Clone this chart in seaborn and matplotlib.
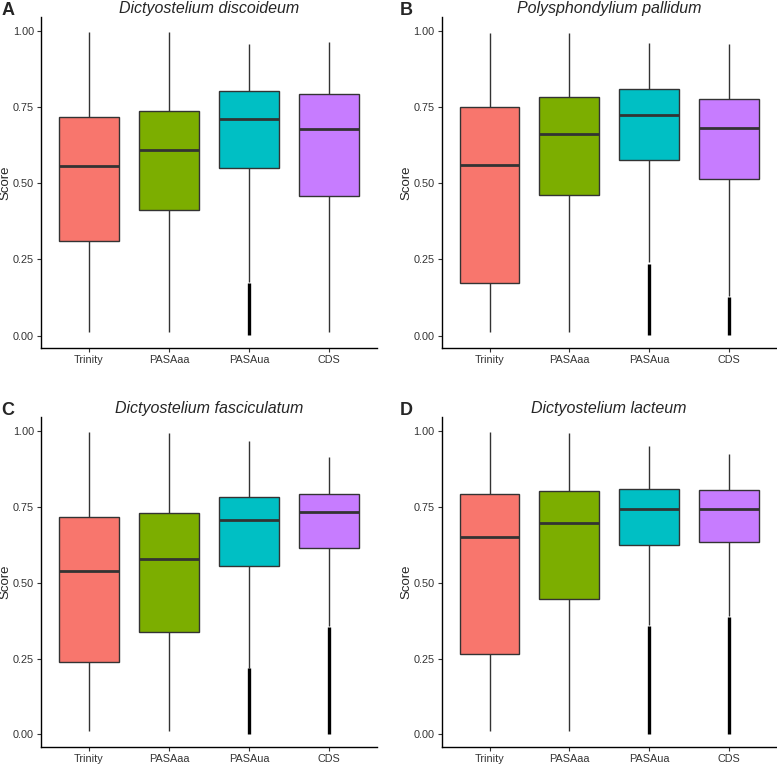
import matplotlib
matplotlib.use("Agg")
import matplotlib.pyplot as plt
import seaborn as sns
import pandas as pd

# kategoriler ve renkler (ggplot varsayilan paleti)
categories = ["Trinity", "PASAaa", "PASAua", "CDS"]
palette = ["#F8766D", "#7CAE00", "#00BFC4", "#C77CFF"]

panel_letters = ["A", "B", "C", "D"]
species = ["Dictyostelium discoideum", "Polysphondylium pallidum",
           "Dictyostelium fasciculatum", "Dictyostelium lacteum"]

# kutu istatistikleri: alt biyik, Q1, medyan, Q3, ust biyik
low_A = [0.011, 0.011, 0.175, 0.012]
q1_A = [0.312, 0.413, 0.549, 0.458]
med_A = [0.558, 0.608, 0.712, 0.679]
q3_A = [0.719, 0.737, 0.804, 0.792]
high_A = [0.996, 0.996, 0.956, 0.965]
out_A = [0.0, 0.0, 0.172, 0.0]   # aykiri degerlerin ust siniri (0 -> yok)

low_B = [0.011, 0.011, 0.240, 0.130]
q1_B = [0.173, 0.460, 0.575, 0.514]
med_B = [0.559, 0.663, 0.723, 0.681]
q3_B = [0.749, 0.783, 0.809, 0.777]
high_B = [0.992, 0.995, 0.961, 0.956]
out_B = [0.0, 0.0, 0.236, 0.127]

low_C = [0.011, 0.011, 0.220, 0.357]
q1_C = [0.239, 0.339, 0.555, 0.615]
med_C = [0.537, 0.579, 0.706, 0.733]
q3_C = [0.718, 0.729, 0.782, 0.791]
high_C = [0.996, 0.993, 0.968, 0.914]
out_C = [0.0, 0.0, 0.218, 0.355]

low_D = [0.011, 0.011, 0.360, 0.390]
q1_D = [0.266, 0.446, 0.625, 0.633]
med_D = [0.649, 0.695, 0.742, 0.742]
q3_D = [0.791, 0.803, 0.809, 0.804]
high_D = [0.996, 0.993, 0.951, 0.925]
out_D = [0.0, 0.0, 0.358, 0.388]

stats = [
    (low_A, q1_A, med_A, q3_A, high_A, out_A),
    (low_B, q1_B, med_B, q3_B, high_B, out_B),
    (low_C, q1_C, med_C, q3_C, high_C, out_C),
    (low_D, q1_D, med_D, q3_D, high_D, out_D),
]

sns.set_style("ticks")
plt.rcParams["font.family"] = ["Liberation Sans", "DejaVu Sans"]

fig = plt.figure(figsize=(7.77, 7.65), dpi=100)

# eksen konumlari (sekil orani)
axes_pos = [
    [0.0528, 0.5455, 0.4324, 0.4323],
    [0.5685, 0.5455, 0.4310, 0.4323],
    [0.0528, 0.0240, 0.4324, 0.4310],
    [0.5685, 0.0240, 0.4310, 0.4310],
]
letter_pos = [(0.002, 0.997), (0.515, 0.997), (0.002, 0.475), (0.515, 0.475)]

for i in range(4):
    low, q1, med, q3, high, out = stats[i]
    rows = []
    for j, cat in enumerate(categories):
        # 5 deger -> yuzdelikler tam olarak Q1/medyan/Q3, whis=(0,100) ile biyikler
        for v in [low[j], q1[j], med[j], q3[j], high[j]]:
            rows.append({"kategori": cat, "Score": v})
    df = pd.DataFrame(rows)

    ax = fig.add_axes(axes_pos[i])
    sns.boxplot(data=df, x="kategori", y="Score", hue="kategori",
                order=categories, hue_order=categories, palette=palette,
                legend=False, whis=(0, 100), showfliers=False, showcaps=False,
                width=0.75, saturation=1, linecolor="#333333", linewidth=1.0,
                medianprops={"linewidth": 2.0, "color": "#333333"}, ax=ax)

    # aykiri degerler: 0'a kadar yogun siyah noktalar
    for j in range(len(categories)):
        if out[j] > 0:
            ax.vlines(j, 0.002, out[j], color="black", linewidth=2.4, zorder=5)

    ax.set_xlim(-0.6, 3.6)
    ax.set_ylim(-0.04, 1.046)
    ax.set_yticks([0.0, 0.25, 0.5, 0.75, 1.0])
    ax.set_yticklabels(["0.00", "0.25", "0.50", "0.75", "1.00"])
    ax.set_xlabel("")
    ax.set_ylabel("Score", fontsize=9.5)
    ax.yaxis.set_label_coords(-0.088, 0.5)
    ax.tick_params(axis="both", labelsize=7.8, labelcolor="#333333",
                   color="#333333", length=3, width=0.8, pad=2)
    sns.despine(ax=ax)
    for s in ["left", "bottom"]:
        ax.spines[s].set_color("black")
        ax.spines[s].set_linewidth(1.0)
    ax.set_title(species[i], style="italic", fontsize=11.5, pad=3)

    fig.text(letter_pos[i][0], letter_pos[i][1], panel_letters[i],
             fontsize=13, fontweight="bold", va="top", ha="left")

fig.savefig("out.png", dpi=100)
